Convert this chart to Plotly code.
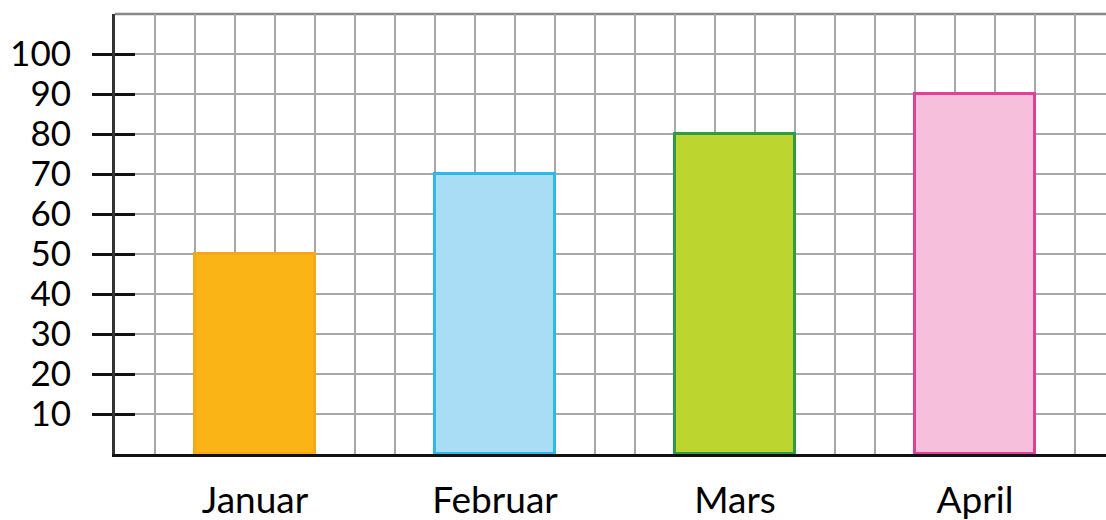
import plotly.graph_objects as go

# data
months = ["Januar", "Februar", "Mars", "April"]
values = [50, 70, 80, 90]
fill_colors = ["#FBB416", "#A9DDF6", "#BDD62F", "#F6C0DC"]
line_colors = ["#F6A81A", "#2DB8E8", "#2E9B48", "#E0409A"]
y_ticks = [10, 20, 30, 40, 50, 60, 70, 80, 90, 100]

# layout: one grid square = 1 x-unit, each month sits in a slot of 6 squares
slot = 6
offset = 3.5
x_pos = [offset + slot * i for i in range(len(months))]

fig = go.Figure()
fig.add_trace(go.Bar(
    x=x_pos, y=values, width=3,
    marker=dict(color=fill_colors, line=dict(color=line_colors, width=3)),
    showlegend=False, hoverinfo="skip",
))

grid = "#a8a8a8"
font = "Lato, Noto Sans, sans-serif"

fig.update_layout(
    width=1106, height=520,
    margin=dict(l=115, r=0, t=14, b=66, autoexpand=False),
    plot_bgcolor="white", paper_bgcolor="white",
    bargap=0,
    xaxis=dict(
        range=[0, 24.775], automargin=False,
        tickmode="array", tickvals=x_pos, ticktext=months,
        ticks="", showgrid=False, zeroline=False,
        showline=True, linecolor="#111", linewidth=3,
        tickfont=dict(family=font, size=37, color="black"),
        ticklabelstandoff=12,
        minor=dict(dtick=1, tick0=0, showgrid=True, gridcolor=grid, gridwidth=1.5),
    ),
    yaxis=dict(
        range=[0, 110], automargin=False,
        tickmode="array", tickvals=y_ticks,
        ticks="outside", ticklen=20, tickwidth=2.5, tickcolor="#111",
        showgrid=True, gridcolor=grid, gridwidth=1.5, zeroline=False,
        showline=True, linecolor="#333", linewidth=3,
        tickfont=dict(family=font, size=35, color="black"),
        ticklabelstandoff=14,
    ),
    yaxis2=dict(
        range=[0, 110], overlaying="y", side="left", automargin=False,
        tickmode="array", tickvals=y_ticks,
        ticks="inside", ticklen=20, tickwidth=2.5, tickcolor="#111",
        showticklabels=False, showgrid=False, zeroline=False, showline=False,
    ),
)
fig.add_trace(go.Scatter(x=[None], y=[None], yaxis="y2", showlegend=False))

# grey border along the top of the grid
fig.add_shape(type="line", xref="paper", yref="paper", x0=0, x1=1, y0=1, y1=1,
              line=dict(color="#888", width=2.5), layer="below")

# page body has an 8px default margin; drop it so the figure fills the window
fig.write_html("out.html", config={"displayModeBar": False},
               post_script="document.body.style.margin='0';")
